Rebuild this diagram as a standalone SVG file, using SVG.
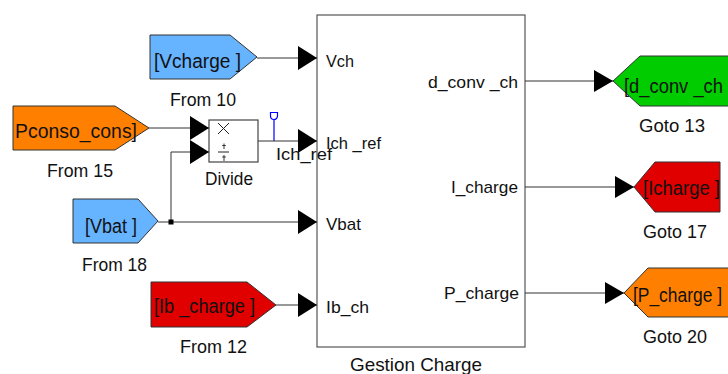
<svg xmlns="http://www.w3.org/2000/svg" width="728" height="374" viewBox="0 0 728 374">
<defs>
<style>
text{font-family:"Liberation Sans",Arial,sans-serif;fill:#111;}
.lbl{font-size:19px;}
.tag{font-size:20px;}
.port{font-size:17px;}
.tagshape{stroke:#333;stroke-width:1;}
.blue{fill:#66b3ff;}
.orange{fill:#ff8000;}
.red{fill:#e00000;}
.green{fill:#00cc00;}
.block{fill:#fff;stroke:#555;stroke-width:1.2;}
.wire{fill:none;stroke:#333;stroke-width:1;}
.ain{marker-end:url(#arrIn);}
.aout{marker-end:url(#arrOut);}
</style>
<marker id="arrIn" markerUnits="userSpaceOnUse" markerWidth="19" markerHeight="24" refX="19" refY="12" orient="auto" viewBox="0 0 19 24">
<path d="M0,0 L19,12 L0,24 Z" fill="#000"/>
</marker>
<marker id="arrOut" markerUnits="userSpaceOnUse" markerWidth="19" markerHeight="22" refX="19" refY="11" orient="auto" viewBox="0 0 19 22">
<path d="M0,0 L19,11 L0,22 Z" fill="#000"/>
</marker>
</defs>
<rect width="728" height="374" fill="#fff"/>

<g id="from10">
<polygon class="tagshape blue" points="150,35 230,35 257,57 230,79 150,79"/>
<text x="154" y="68" class="tag" textLength="87" lengthAdjust="spacingAndGlyphs">[Vcharge ]</text>
<text x="170" y="106" class="lbl" textLength="66" lengthAdjust="spacingAndGlyphs">From 10</text>
</g>

<g id="from15">
<polygon class="tagshape orange" points="13,106 115,106 149,128 115,150 13,150"/>
<text x="15" y="138" class="tag" textLength="122" lengthAdjust="spacingAndGlyphs">Pconso_cons]</text>
<text x="47" y="177" class="lbl" textLength="66" lengthAdjust="spacingAndGlyphs">From 15</text>
</g>

<g id="from18">
<polygon class="tagshape blue" points="73,199 138,199 158,221 138,243 73,243"/>
<text x="85" y="233" class="tag" textLength="52" lengthAdjust="spacingAndGlyphs">[Vbat ]</text>
<text x="82" y="271" class="lbl" textLength="65" lengthAdjust="spacingAndGlyphs">From 18</text>
</g>

<g id="from12">
<polygon class="tagshape red" points="151,282 247,282 276,305 247,327 151,327"/>
<text x="154" y="313" class="tag" textLength="101" lengthAdjust="spacingAndGlyphs">[Ib _charge ]</text>
<text x="180" y="353" class="lbl" textLength="67" lengthAdjust="spacingAndGlyphs">From 12</text>
</g>

<g id="divide">
<rect x="209" y="120" width="49" height="42" fill="#fff" stroke="#444" stroke-width="1.2"/>
<path d="M218,123 L229,134 M229,123 L218,134" stroke="#222" stroke-width="1" fill="none"/>
<path d="M218,152 H229" stroke="#222" stroke-width="1"/>
<path d="M224,143.5 V149 M222.2,145.5 H225.8 M224,155 V161 M222.2,157 H225.8" stroke="#222" stroke-width="0.9"/>
<text x="205" y="185" class="lbl" textLength="48" lengthAdjust="spacingAndGlyphs">Divide</text>
</g>

<g id="gestion_charge">
<rect class="block" x="317" y="15" width="208" height="332"/>
<text x="326" y="67" class="port" textLength="28" lengthAdjust="spacingAndGlyphs">Vch</text>
<text x="326" y="149" class="port" textLength="55" lengthAdjust="spacingAndGlyphs">Ich _ref</text>
<text x="326" y="230" class="port" textLength="35" lengthAdjust="spacingAndGlyphs">Vbat</text>
<text x="326" y="313" class="port" textLength="43" lengthAdjust="spacingAndGlyphs">Ib_ch</text>
<text x="428" y="88" class="port" textLength="90" lengthAdjust="spacingAndGlyphs">d_conv _ch</text>
<text x="451" y="193" class="port" textLength="67" lengthAdjust="spacingAndGlyphs">I_charge</text>
<text x="444" y="299" class="port" textLength="75" lengthAdjust="spacingAndGlyphs">P_charge</text>
<text x="350" y="371" class="lbl" textLength="132" lengthAdjust="spacingAndGlyphs">Gestion Charge</text>
</g>

<g id="goto13">
<polygon class="tagshape green" points="613,81 640,56 740,56 740,106 640,106"/>
<text x="624" y="93" class="tag" textLength="99" lengthAdjust="spacingAndGlyphs">[d_conv _ch</text>
<text x="639" y="132" class="lbl" textLength="66" lengthAdjust="spacingAndGlyphs">Goto 13</text>
</g>

<g id="goto17">
<polygon class="tagshape red" points="634,187 655,162 720,162 720,212 655,212"/>
<text x="643" y="195" class="tag" textLength="77" lengthAdjust="spacingAndGlyphs">[Icharge ]</text>
<text x="643" y="238" class="lbl" textLength="64" lengthAdjust="spacingAndGlyphs">Goto 17</text>
</g>

<g id="goto20">
<polygon class="tagshape orange" points="624,293 648,268 740,268 740,317 648,317"/>
<text x="633" y="302" class="tag" textLength="89" lengthAdjust="spacingAndGlyphs">[P_charge ]</text>
<text x="643" y="343" class="lbl" textLength="64" lengthAdjust="spacingAndGlyphs">Goto 20</text>
</g>

<g id="testpoint">
<path d="M274,141 V119.5" stroke="#0000ff" stroke-width="1.2" fill="none"/>
<path d="M270.5,112.5 H277.5 V116 A3.5,3.5 0 0 1 274,119.5 A3.5,3.5 0 0 1 270.5,116 Z" stroke="#0000ff" stroke-width="1.2" fill="none"/>
</g>

<g id="connectors">
<path class="wire ain" d="M257,58 H317"/>
<path class="wire ain" d="M149,128 H209"/>
<path class="wire ain" d="M171,222 V152 H209"/>
<path class="wire ain" d="M158,222 H317"/>
<rect x="168.5" y="219.5" width="5" height="5" fill="#000"/>
<path class="wire ain" d="M258,141 H317"/>
<path class="wire ain" d="M276,305 H317"/>
<path class="wire aout" d="M525,81 H613"/>
<path class="wire aout" d="M525,187 H634"/>
<path class="wire aout" d="M525,293 H624"/>
<text x="276" y="160" class="port" textLength="56" lengthAdjust="spacingAndGlyphs">Ich_ref</text>
</g>
</svg>
